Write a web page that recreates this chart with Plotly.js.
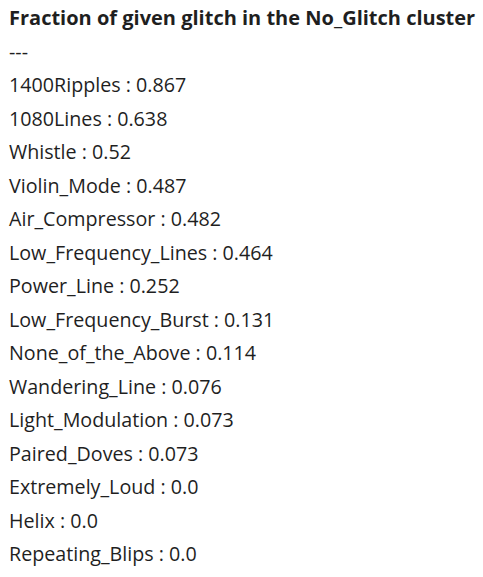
<!DOCTYPE html>
<html>
<head>
<meta charset="utf-8">
<script src="https://cdn.plot.ly/plotly-3.0.1.min.js"></script>
<style>
  html, body { margin: 0; padding: 0; background: #fff; }
  #chart { width: 483px; height: 577px; }
</style>
</head>
<body>
<div id="chart"></div>
<script>
var clusterName = "No_Glitch";
var glitches = [
  "1400Ripples", "1080Lines", "Whistle", "Violin_Mode", "Air_Compressor",
  "Low_Frequency_Lines", "Power_Line", "Low_Frequency_Burst", "None_of_the_Above",
  "Wandering_Line", "Light_Modulation", "Paired_Doves", "Extremely_Loud",
  "Helix", "Repeating_Blips"
];
var fractions = ["0.867", "0.638", "0.52", "0.487", "0.482", "0.464", "0.252",
  "0.131", "0.114", "0.076", "0.073", "0.073", "0.0", "0.0", "0.0"];

// rows of text: title, separator, then one line per glitch
var lines = ["<span style=\"font-size:20px\"><b>Fraction of given glitch in the " + clusterName + " cluster</b></span>", "---"];
for (var i = 0; i < glitches.length; i++) {
  lines.push(glitches[i] + " : " + fractions[i]);
}
var rows = lines.map(function (d, i) { return i - 2; });

var trace = {
  type: "scatter",
  mode: "text",
  x: lines.map(function () { return 0; }),
  y: rows,
  text: lines,
  textposition: "middle right",
  textfont: { family: "Open Sans, sans-serif", size: 19.7, color: "#1f1f1f" },
  hoverinfo: "skip",
  showlegend: false,
  cliponaxis: false
};

var layout = {
  width: 483,
  height: 577,
  margin: { l: 0, r: 0, t: 0, b: 0 },
  paper_bgcolor: "#ffffff",
  plot_bgcolor: "#ffffff",
  xaxis: { range: [-9, 474], visible: false, fixedrange: true },
  yaxis: { range: [14.62, -2.6], visible: false, fixedrange: true }
};

Plotly.newPlot("chart", [trace], layout, { displayModeBar: false, staticPlot: true });
</script>
</body>
</html>
